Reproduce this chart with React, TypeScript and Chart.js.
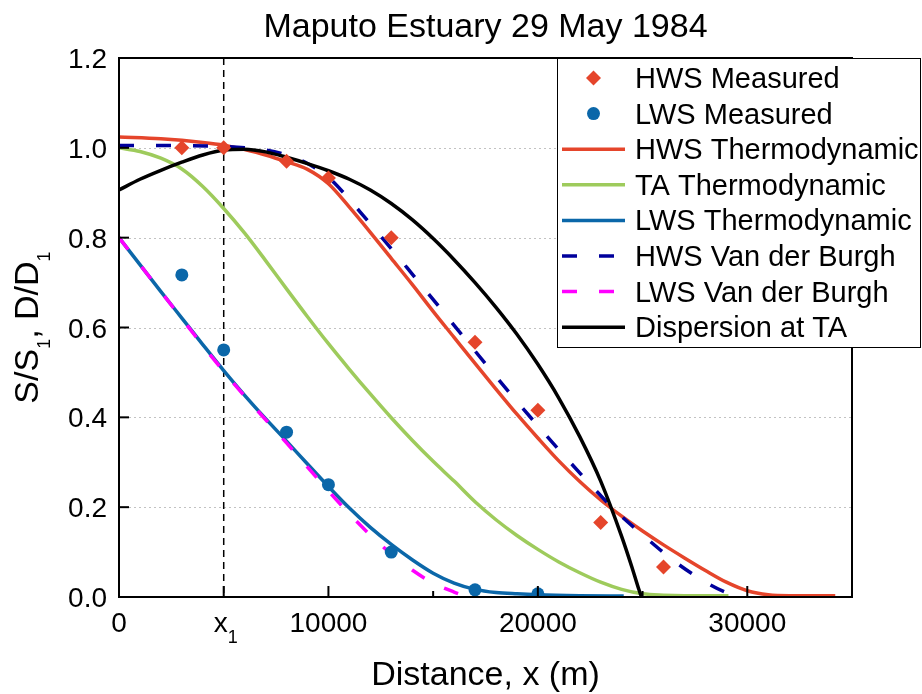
import React, { useEffect, useRef } from 'react';
import { Chart, registerables } from 'chart.js';

Chart.register(...registerables);

// ---------- data ----------
const TITLE = 'Maputo Estuary 29 May 1984';
const X_TITLE = 'Distance, x (m)';
const Y_TITLE = 'S/S_{1}, D/D_{1}';

const X_TICKS = [0, 5000, 10000, 15000, 20000, 25000, 30000, 35000];
const X_TICK_LABELS = ['0', 'x_{1}', '10000', '', '20000', '', '30000', ''];
const Y_TICKS = [0, 0.2, 0.4, 0.6, 0.8, 1.0, 1.2];
const Y_TICK_LABELS = ['0.0', '0.2', '0.4', '0.6', '0.8', '1.0', '1.2'];
const GRID_Y = [0.2, 0.4, 0.6, 0.8, 1.0];
const X1_VALUE = 5000;

const HWS_MEAS_X = [3000, 5000, 8000, 10000, 13000, 17000, 20000, 23000, 26000];
const HWS_MEAS_Y = [1.0, 1.0, 0.97, 0.933, 0.80, 0.567, 0.416, 0.166, 0.067];

const LWS_MEAS_X = [3000, 5000, 8000, 10000, 13000, 17000, 20000];
const LWS_MEAS_Y = [0.717, 0.55, 0.367, 0.25, 0.10, 0.016, 0.007];

const HWS_THERMO_X = [0, 2000, 4000, 5000, 6000, 7000, 8000, 9000, 10000, 11000, 12000, 13000, 14000, 15000, 16000, 17000, 18000, 19000, 20000, 21000, 22000, 23000, 24000, 25000, 26000, 27000, 28000, 29000, 30000, 31000, 32000, 34200];
const HWS_THERMO_Y = [1.024, 1.02, 1.012, 1.006, 0.996, 0.984, 0.969, 0.952, 0.92, 0.868, 0.812, 0.754, 0.696, 0.636, 0.578, 0.52, 0.463, 0.407, 0.354, 0.303, 0.257, 0.216, 0.18, 0.147, 0.116, 0.087, 0.059, 0.033, 0.014, 0.005, 0.003, 0.003];

const TA_THERMO_X = [0, 1000, 2000, 3000, 4000, 5000, 6000, 7000, 8000, 9000, 10000, 11000, 12000, 13000, 14000, 15000, 16000, 17000, 18000, 19000, 20000, 21000, 22000, 23000, 24000, 25000, 26000, 27000, 29100];
const TA_THERMO_Y = [1.0, 0.992, 0.977, 0.953, 0.914, 0.865, 0.81, 0.749, 0.686, 0.624, 0.564, 0.507, 0.452, 0.399, 0.349, 0.302, 0.258, 0.212, 0.172, 0.137, 0.106, 0.078, 0.054, 0.033, 0.017, 0.007, 0.004, 0.003, 0.003];

const LWS_THERMO_X = [0, 1000, 2000, 3000, 4000, 5000, 6000, 7000, 8000, 9000, 10000, 11000, 12000, 13000, 14000, 15000, 16000, 17000, 18000, 19000, 20000, 22000, 24100];
const LWS_THERMO_Y = [0.80, 0.74, 0.68, 0.621, 0.562, 0.504, 0.449, 0.397, 0.347, 0.296, 0.246, 0.198, 0.155, 0.117, 0.083, 0.053, 0.031, 0.017, 0.01, 0.007, 0.005, 0.003, 0.002];

const HWS_VDB_X = [0, 3000, 5000, 6000, 7000, 8000, 9000, 10000, 10720, 11830, 13030, 14140, 15340, 16450, 17650, 18840, 20040, 21230, 22400, 23620, 25210, 26650, 28240, 29000, 29700];
const HWS_VDB_Y = [1.005, 1.005, 1.003, 1.0, 0.995, 0.984, 0.965, 0.934, 0.9, 0.84, 0.774, 0.711, 0.643, 0.579, 0.511, 0.444, 0.379, 0.316, 0.256, 0.196, 0.13, 0.075, 0.027, 0.01, 0.0];

const LWS_VDB_X = [0, 2000, 4000, 5000, 6000, 8000, 10000, 11000, 12000, 13000, 14000, 15000, 16000, 16650];
const LWS_VDB_Y = [0.80, 0.68, 0.56, 0.502, 0.447, 0.343, 0.236, 0.185, 0.138, 0.096, 0.06, 0.031, 0.011, 0.0];

const DISP_X = [0, 1000, 2000, 3000, 4000, 5000, 6000, 7000, 8000, 9000, 10000, 11000, 12000, 13000, 14000, 15000, 16000, 17000, 18000, 19000, 20000, 21000, 22000, 23000, 24000, 24500, 24800, 24950];
const DISP_Y = [0.906, 0.93, 0.95, 0.968, 0.984, 0.995, 0.997, 0.991, 0.979, 0.965, 0.949, 0.93, 0.906, 0.876, 0.84, 0.798, 0.751, 0.70, 0.645, 0.585, 0.518, 0.443, 0.357, 0.258, 0.135, 0.065, 0.02, 0.0];

const LEGEND_ORDER = ['HWS Measured', 'LWS Measured', 'HWS Thermodynamic', 'TA Thermodynamic', 'LWS Thermodynamic', 'HWS Van der Burgh', 'LWS Van der Burgh', 'Dispersion at TA'];

// ---------- styles ----------
const RED = '#E5452B';
const BLUE = '#0B67A9';
const GREEN = '#9ECB5C';
const NAVY = '#00009C';
const MAGENTA = '#FF00FF';
const BLACK = '#000000';
const FONT = "'Liberation Sans', Arial, Helvetica, sans-serif";
const LINE_W = 3.5;
const DASH = [15, 22];

const pts = (xs: number[], ys: number[]) => xs.map((x, i) => ({ x, y: ys[i] }));

function parseRich(s: string) {
  const parts: { t: string; sub: boolean }[] = [];
  const re = /_\{([^}]*)\}/g;
  let last = 0;
  let m: RegExpExecArray | null;
  while ((m = re.exec(s))) {
    if (m.index > last) parts.push({ t: s.slice(last, m.index), sub: false });
    parts.push({ t: m[1], sub: true });
    last = re.lastIndex;
  }
  if (last < s.length) parts.push({ t: s.slice(last), sub: false });
  return parts;
}

function drawRich(ctx: CanvasRenderingContext2D, s: string, x: number, y: number, size: number, subSize: number, subDrop: number, align: 'center' | 'left' | 'right') {
  const parts = parseRich(s);
  const widths = parts.map((p) => {
    ctx.font = `${p.sub ? subSize : size}px ${FONT}`;
    return ctx.measureText(p.t).width;
  });
  const total = widths.reduce((a, b) => a + b, 0);
  let cx = align === 'center' ? x - total / 2 : align === 'right' ? x - total : x;
  ctx.textAlign = 'left';
  ctx.textBaseline = 'alphabetic';
  parts.forEach((p, i) => {
    ctx.font = `${p.sub ? subSize : size}px ${FONT}`;
    ctx.fillText(p.t, cx, y + (p.sub ? subDrop : 0));
    cx += widths[i];
  });
}

const customPlugin = {
  id: 'customDecor',
  beforeDatasetsDraw(chart: any) {
    const { ctx, chartArea: a, scales } = chart;
    const x = scales.x;
    const y = scales.y;
    ctx.save();
    ctx.strokeStyle = '#c2c2c2';
    ctx.lineWidth = 1;
    ctx.setLineDash([2, 3]);
    GRID_Y.forEach((v) => {
      const py = Math.round(y.getPixelForValue(v)) + 0.5;
      ctx.beginPath();
      ctx.moveTo(a.left, py);
      ctx.lineTo(a.right, py);
      ctx.stroke();
    });
    ctx.strokeStyle = BLACK;
    ctx.lineWidth = 1.5;
    ctx.setLineDash([7, 5]);
    const px = x.getPixelForValue(X1_VALUE);
    ctx.beginPath();
    ctx.moveTo(px, a.top);
    ctx.lineTo(px, a.bottom);
    ctx.stroke();
    ctx.restore();
  },
  afterDatasetsDraw(chart: any) {
    const { ctx, chartArea: a, scales } = chart;
    const x = scales.x;
    const y = scales.y;
    ctx.save();
    ctx.setLineDash([]);
    ctx.strokeStyle = BLACK;
    ctx.lineWidth = 2;
    ctx.strokeRect(a.left, a.top, a.right - a.left, a.bottom - a.top);
    Y_TICKS.forEach((v) => {
      const py = y.getPixelForValue(v);
      ctx.beginPath();
      ctx.moveTo(a.left, py);
      ctx.lineTo(a.left + 10, py);
      ctx.stroke();
    });
    X_TICKS.forEach((v, i) => {
      const px = x.getPixelForValue(v);
      const len = X_TICK_LABELS[i] ? 11 : 6;
      ctx.beginPath();
      ctx.moveTo(px, a.bottom);
      ctx.lineTo(px, a.bottom - len);
      ctx.stroke();
    });
    ctx.fillStyle = BLACK;
    Y_TICKS.forEach((v, i) => {
      const py = y.getPixelForValue(v);
      drawRich(ctx, Y_TICK_LABELS[i], a.left - 12, py + 10, 28, 18, 11, 'right');
    });
    X_TICKS.forEach((v, i) => {
      if (!X_TICK_LABELS[i]) return;
      const px = x.getPixelForValue(v);
      drawRich(ctx, X_TICK_LABELS[i], px + (X_TICK_LABELS[i].includes('_') ? 2 : 0), a.bottom + 35, 28, 18, 11, 'center');
    });
    ctx.restore();
  },
  afterDraw(chart: any) {
    const { ctx, chartArea: a } = chart;
    ctx.save();
    ctx.fillStyle = BLACK;
    const cx = (a.left + a.right) / 2;
    const cy = (a.top + a.bottom) / 2;
    drawRich(ctx, TITLE, cx, 37, 34, 20, 10, 'center');
    drawRich(ctx, X_TITLE, cx, 685, 34, 20, 10, 'center');
    ctx.save();
    ctx.translate(38, cy);
    ctx.rotate(-Math.PI / 2);
    drawRich(ctx, Y_TITLE, 0, 0, 34, 18, 12, 'center');
    ctx.restore();

    // legend
    const bx = 557.5, by = 58.5, bw = 363, bh = 289;
    ctx.fillStyle = '#ffffff';
    ctx.fillRect(bx, by, bw, bh);
    ctx.strokeStyle = BLACK;
    ctx.lineWidth = 1;
    ctx.setLineDash([]);
    ctx.strokeRect(bx, by, bw, bh);
    const datasets = chart.data.datasets;
    LEGEND_ORDER.forEach((label, i) => {
      const ds = datasets.find((d: any) => d.label === label);
      if (!ds) return;
      const ry = 78 + i * 35.6;
      if (ds.showLine === false) {
        ctx.fillStyle = ds.pointBackgroundColor;
        ctx.beginPath();
        if (ds.pointStyle === 'rectRot') {
          const r = 7.5;
          ctx.moveTo(593.5 - r, ry);
          ctx.lineTo(593.5, ry - r);
          ctx.lineTo(593.5 + r, ry);
          ctx.lineTo(593.5, ry + r);
          ctx.closePath();
        } else {
          ctx.arc(593.5, ry, 6.5, 0, Math.PI * 2);
        }
        ctx.fill();
      } else {
        ctx.strokeStyle = ds.borderColor;
        ctx.lineWidth = ds.borderWidth;
        ctx.setLineDash(ds.borderDash || []);
        ctx.beginPath();
        ctx.moveTo(562, ry);
        ctx.lineTo(625, ry);
        ctx.stroke();
        ctx.setLineDash([]);
      }
      ctx.fillStyle = BLACK;
      drawRich(ctx, label, 635, ry + 10, 29, 18, 10, 'left');
    });
    ctx.restore();
  },
};

export default function App() {
  const ref = useRef<HTMLCanvasElement>(null);
  useEffect(() => {
    const canvas = ref.current;
    if (!canvas) return;
    const lineDs = (label: string, xs: number[], ys: number[], color: string, dash?: number[]) => ({
      label,
      data: pts(xs, ys),
      borderColor: color,
      backgroundColor: color,
      borderWidth: LINE_W,
      borderDash: dash || [],
      borderCapStyle: 'butt',
      pointRadius: 0,
      pointHoverRadius: 0,
      cubicInterpolationMode: 'monotone',
      fill: false,
    });
    const chart = new Chart(canvas, {
      type: 'line',
      data: {
        datasets: [
          {
            label: 'HWS Measured',
            data: pts(HWS_MEAS_X, HWS_MEAS_Y),
            showLine: false,
            pointStyle: 'rectRot',
            pointRadius: 7.5,
            pointBorderWidth: 0,
            pointBackgroundColor: RED,
            pointBorderColor: RED,
            borderColor: RED,
            backgroundColor: RED,
          },
          {
            label: 'LWS Measured',
            data: pts(LWS_MEAS_X, LWS_MEAS_Y),
            showLine: false,
            pointStyle: 'circle',
            pointRadius: 6.5,
            pointBorderWidth: 0,
            pointBackgroundColor: BLUE,
            pointBorderColor: BLUE,
            borderColor: BLUE,
            backgroundColor: BLUE,
          },
          lineDs('Dispersion at TA', DISP_X, DISP_Y, BLACK),
          lineDs('HWS Van der Burgh', HWS_VDB_X, HWS_VDB_Y, NAVY, DASH),
          lineDs('LWS Van der Burgh', LWS_VDB_X, LWS_VDB_Y, MAGENTA, DASH),
          lineDs('HWS Thermodynamic', HWS_THERMO_X, HWS_THERMO_Y, RED),
          lineDs('TA Thermodynamic', TA_THERMO_X, TA_THERMO_Y, GREEN),
          lineDs('LWS Thermodynamic', LWS_THERMO_X, LWS_THERMO_Y, BLUE),
        ] as any,
      },
      options: {
        responsive: false,
        animation: false,
        devicePixelRatio: 1,
        events: [],
        layout: { padding: { left: 0, right: 70, top: 58, bottom: 0 } },
        plugins: {
          legend: { display: false },
          title: { display: false },
          tooltip: { enabled: false },
        },
        scales: {
          x: {
            type: 'linear',
            min: 0,
            max: 35000,
            ticks: { stepSize: 5000, display: false },
            grid: { display: false, drawTicks: false },
            border: { display: false },
            afterFit: (s: any) => { s.height = 97; },
          },
          y: {
            type: 'linear',
            min: 0,
            max: 1.2,
            ticks: { stepSize: 0.2, display: false },
            grid: { display: false, drawTicks: false },
            border: { display: false },
            afterFit: (s: any) => { s.width = 119; },
          },
        },
      } as any,
      plugins: [customPlugin as any],
    });
    return () => chart.destroy();
  }, []);
  return (
    <div style={{ position: 'fixed', left: 0, top: 0, width: 922, height: 694, background: '#fff' }}>
      <canvas ref={ref} width={922} height={694} style={{ display: 'block', width: 922, height: 694 }} />
    </div>
  );
}
